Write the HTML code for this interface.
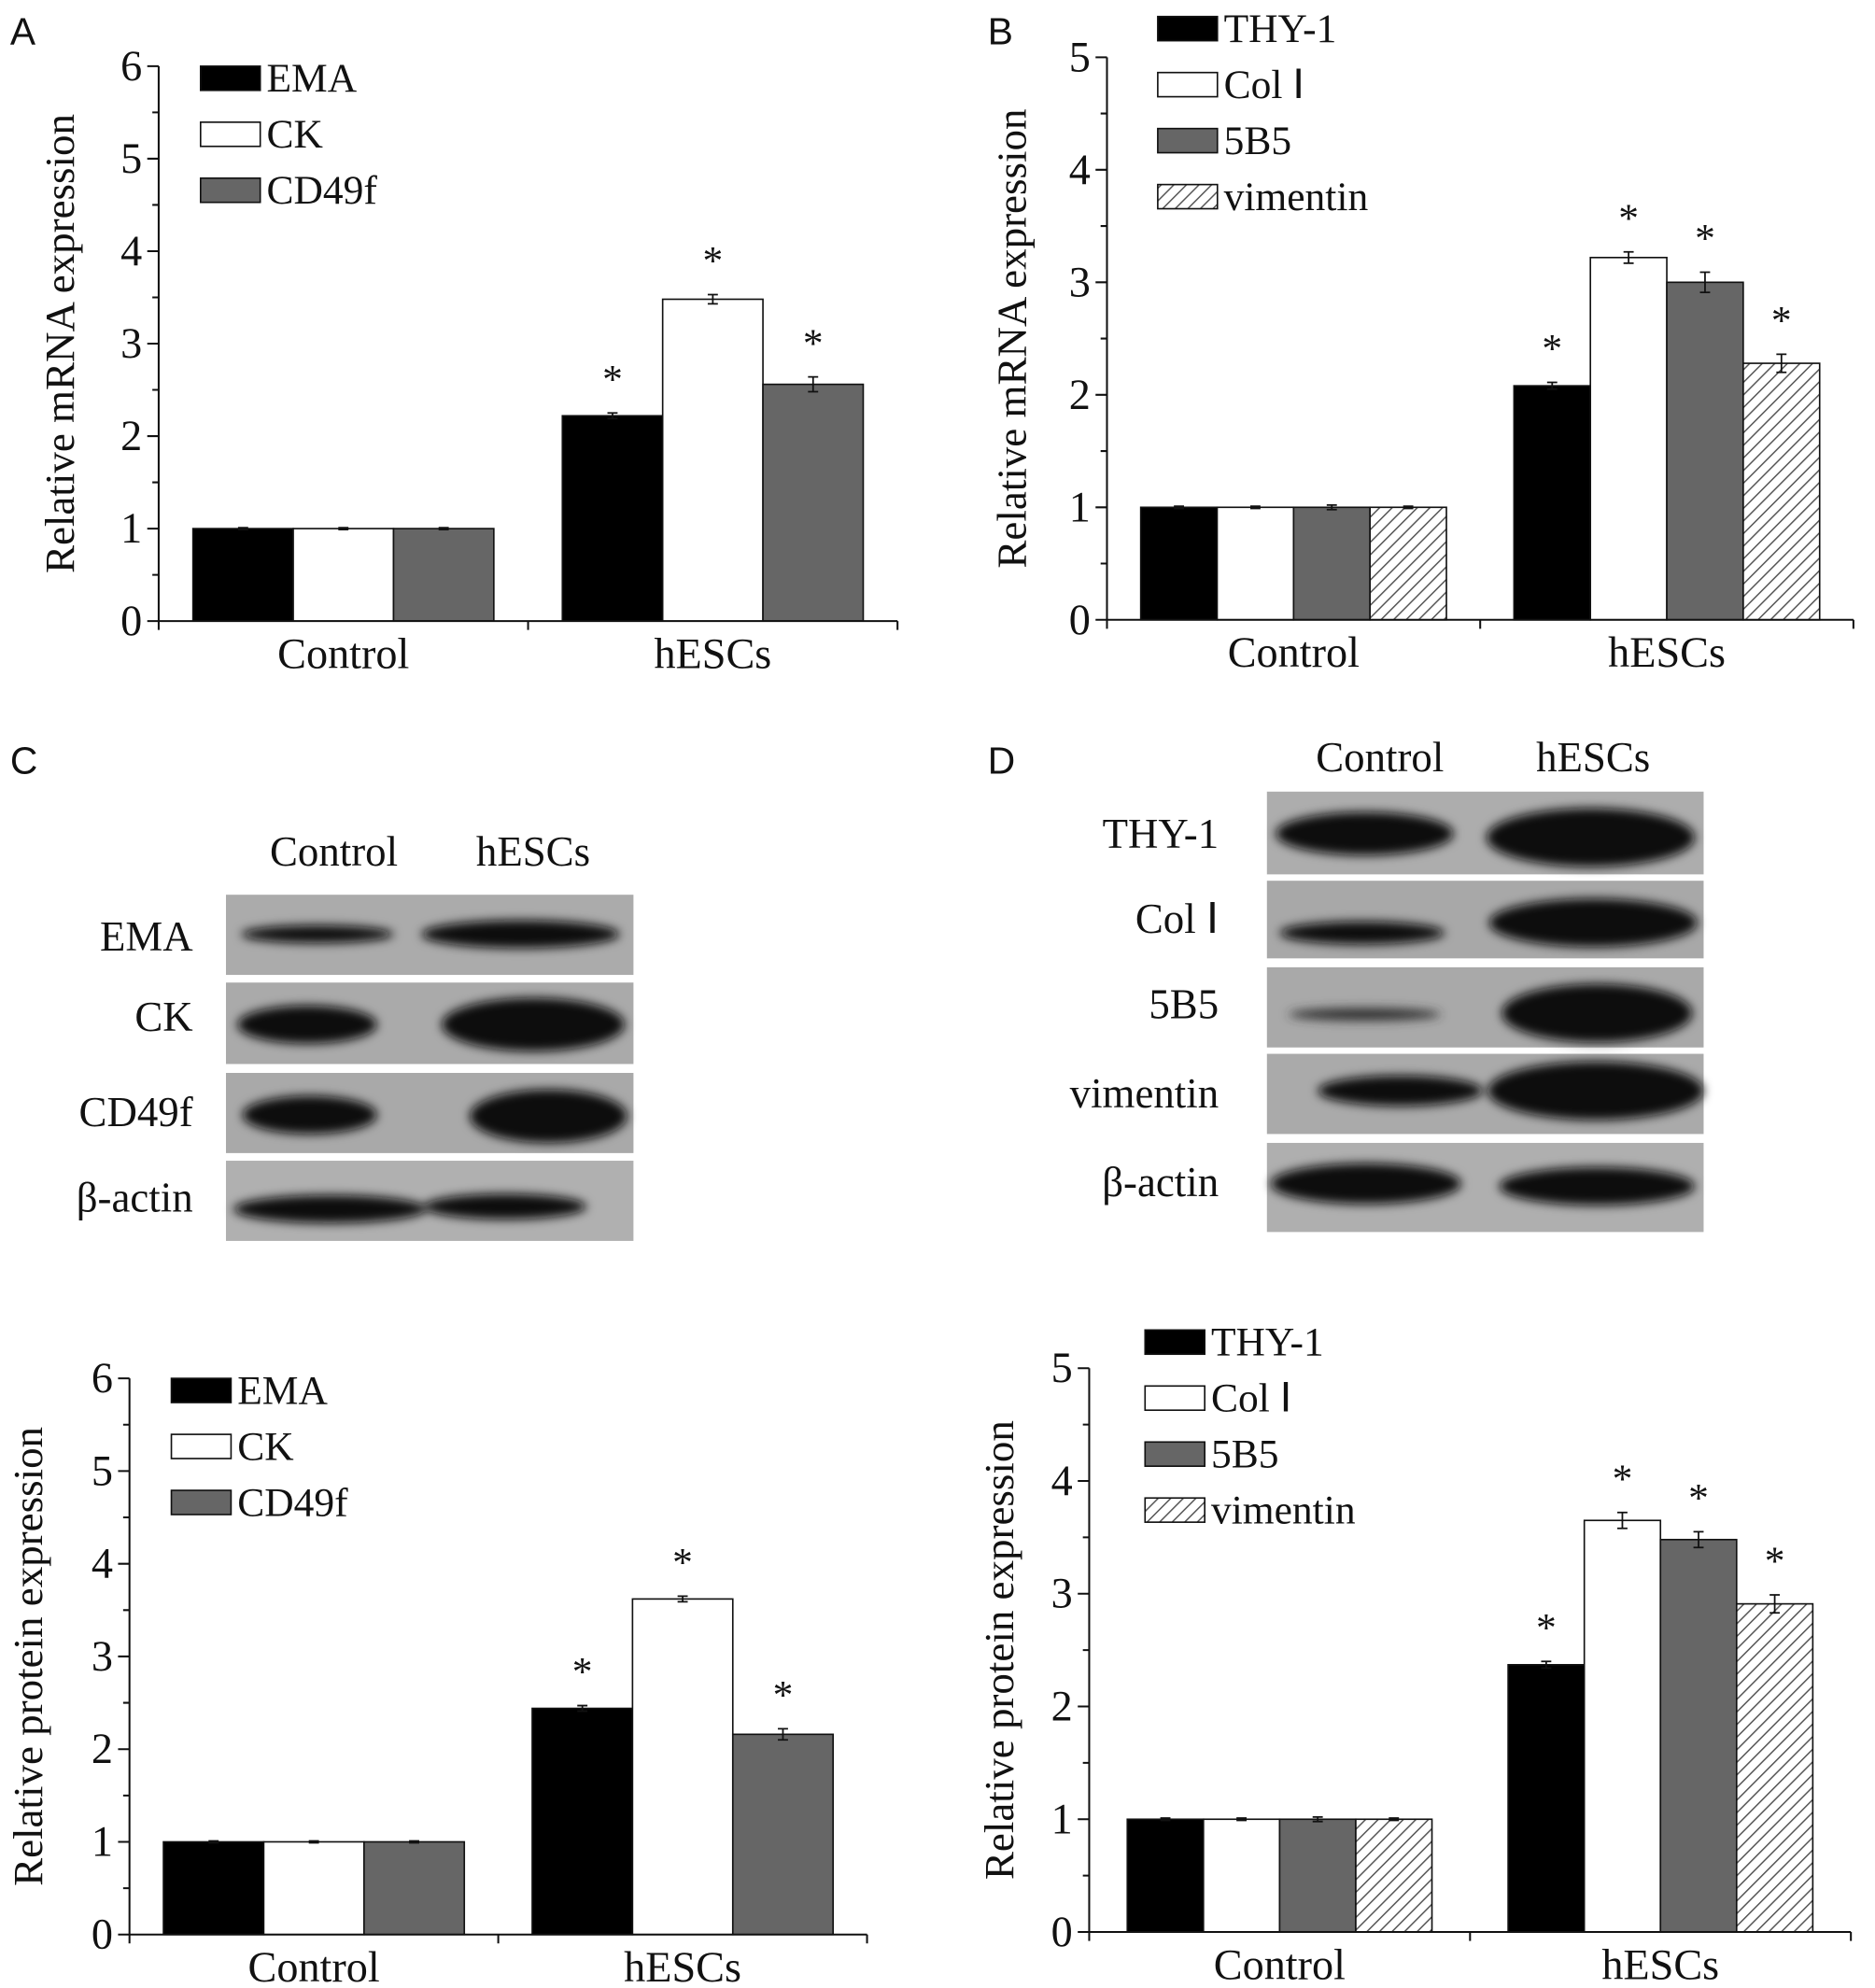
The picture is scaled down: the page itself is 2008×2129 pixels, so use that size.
<!DOCTYPE html>
<html><head><meta charset="utf-8"><style>
html,body{margin:0;padding:0;background:#fff;}
svg{display:block;}
svg text{font-family:"Liberation Serif","Times New Roman",serif;fill:#111;}
svg text.lab{font-family:"Liberation Sans",Arial,sans-serif;}
</style></head><body>
<svg id="fig" width="2008" height="2129" viewBox="0 0 1477 1562" preserveAspectRatio="none" xmlns="http://www.w3.org/2000/svg" font-family="Liberation Serif, serif">
<defs>
<pattern id="hatch" patternUnits="userSpaceOnUse" width="7" height="7" patternTransform="rotate(45)">
<rect width="7" height="7" fill="#fff"/><line x1="0" y1="0" x2="0" y2="7" stroke="#555" stroke-width="2.2"/>
</pattern>
<filter id="blur" x="-20%" y="-50%" width="140%" height="200%"><feGaussianBlur stdDeviation="4"/></filter>
</defs>
<text class="lab" x="8" y="35" font-size="30">A</text>
<text class="lab" x="778" y="35" font-size="30">B</text>
<text class="lab" x="8" y="608" font-size="30">C</text>
<text class="lab" x="778" y="608" font-size="30">D</text>

<g>
<text x="263" y="680" font-size="33" text-anchor="middle">Control</text>
<text x="420" y="680" font-size="33" text-anchor="middle">hESCs</text>
<rect x="178" y="703" width="321" height="63" fill="#ababab"/>
<rect x="178" y="772" width="321" height="64" fill="#aaaaaa"/>
<rect x="178" y="843" width="321" height="63" fill="#a9a9a9"/>
<rect x="178" y="912" width="321" height="63" fill="#b0b0b0"/>
<g filter="url(#blur)" fill="#0c0c0c">
<ellipse cx="250" cy="734" rx="60" ry="7"/><ellipse cx="410" cy="734" rx="78" ry="11"/>
<ellipse cx="242" cy="805" rx="55" ry="15"/><ellipse cx="420" cy="805" rx="72" ry="21"/>
<ellipse cx="244" cy="876" rx="53" ry="15"/><ellipse cx="432" cy="877" rx="62" ry="21"/>
<ellipse cx="260" cy="950" rx="76" ry="11"/><ellipse cx="398" cy="948" rx="64" ry="10"/>
</g>
<text x="152" y="747" font-size="33" text-anchor="end">EMA</text>
<text x="152" y="810" font-size="33" text-anchor="end">CK</text>
<text x="152" y="885" font-size="33" text-anchor="end">CD49f</text>
<text x="152" y="952" font-size="33" text-anchor="end">β-actin</text>
</g>

<g>
<text x="1087" y="606" font-size="33" text-anchor="middle">Control</text>
<text x="1255" y="606" font-size="33" text-anchor="middle">hESCs</text>
<rect x="998" y="622" width="344" height="65" fill="#adadad"/>
<rect x="998" y="692" width="344" height="61" fill="#a8a8a8"/>
<rect x="998" y="760" width="344" height="63" fill="#a9a9a9"/>
<rect x="998" y="828" width="344" height="63" fill="#aaaaaa"/>
<rect x="998" y="898" width="344" height="70" fill="#afafaf"/>
<g filter="url(#blur)" fill="#0c0c0c">
<ellipse cx="1075" cy="655" rx="70" ry="17"/><ellipse cx="1253" cy="658" rx="82" ry="23"/>
<ellipse cx="1073" cy="733" rx="65" ry="9"/><ellipse cx="1255" cy="725" rx="82" ry="19"/>
<ellipse cx="1075" cy="797" rx="60" ry="5" fill="#333"/><ellipse cx="1258" cy="796" rx="75" ry="23"/>
<ellipse cx="1103" cy="857" rx="65" ry="12"/><ellipse cx="1257" cy="857" rx="85" ry="23"/>
<ellipse cx="1076" cy="930" rx="75" ry="16"/><ellipse cx="1258" cy="932" rx="77" ry="15"/>
</g>
<text x="960" y="666" font-size="33" text-anchor="end">THY-1</text>
<text x="960" y="733" font-size="33" text-anchor="end">Col Ⅰ</text>
<text x="960" y="800" font-size="33" text-anchor="end">5B5</text>
<text x="960" y="870" font-size="33" text-anchor="end">vimentin</text>
<text x="960" y="940" font-size="33" text-anchor="end">β-actin</text>
</g>
</svg>
<script>
const groups = ["Control", "hESCs"];
const seriesA = ["EMA", "CK", "CD49f"];
const valuesA = [[1, 2.22], [1, 3.48], [1, 2.56]];
const errorsA = [[0.01, 0.03], [0.01, 0.05], [0.01, 0.08]];
const ticksA = [0, 1, 2, 3, 4, 5, 6];
const seriesB = ["THY-1", "Col Ⅰ", "5B5", "vimentin"];
const valuesB = [[1, 2.08], [1, 3.22], [1, 3.00], [1, 2.28]];
const errorsB = [[0.01, 0.03], [0.01, 0.05], [0.02, 0.09], [0.01, 0.08]];
const ticksB = [0, 1, 2, 3, 4, 5];
const valuesC = [[1, 2.44], [1, 3.62], [1, 2.16]];
const errorsC = [[0.01, 0.03], [0.01, 0.03], [0.01, 0.06]];
const valuesD = [[1, 2.37], [1, 3.65], [1, 3.48], [1, 2.91]];
const errorsD = [[0.01, 0.03], [0.01, 0.07], [0.02, 0.07], [0.01, 0.08]];

const NS = "http://www.w3.org/2000/svg";
const svg = document.getElementById("fig");
const fills = ["#000", "#fff", "#666", "url(#hatch)"];
function mk(tag, attrs, parent) {
  const e = document.createElementNS(NS, tag);
  for (const k in attrs) e.setAttribute(k, attrs[k]);
  parent.appendChild(e);
  return e;
}
function chart(id, o, series, values, errors, ticks, title) {
  const g = mk("g", {}, svg);
  
  
  const ymax = ticks[ticks.length - 1];
  const y = v => o.y0 - (o.y0 - o.yTop) * v / ymax;
  const n = series.length;
  const groupW = (o.xEnd - o.x0) / groups.length;
  const barW = o.barW;
  const x = (gi, si) => o.x0 + groupW * (gi + 0.5) - barW * n / 2 + barW * si;
  for (let si = 0; si < n; si++) {
    for (let gi = 0; gi < groups.length; gi++) {
      const v = values[si][gi];
      const r = mk("rect", {x: x(gi, si), y: y(v), width: barW, height: o.y0 - y(v), fill: fills[si], stroke: "#111", "stroke-width": 1.2}, g);
      
      
      const cx = x(gi, si) + barW / 2, e = errors[si][gi];
      const eb = mk("path", {d: `M${cx},${y(v + e)}V${y(v - e)}M${cx - 4},${y(v + e)}H${cx + 4}M${cx - 4},${y(v - e)}H${cx + 4}`, stroke: "#111", "stroke-width": 1.3, fill: "none"}, g);
      
      
      if (gi === 1) {
        const s = mk("text", {x: cx, y: y(v + e) - 16, "font-size": 32, "text-anchor": "middle"}, g);
        s.textContent = "*";
        
        
      }
    }
  }
  const ax = mk("path", {d: `M${o.x0},${o.yTop}V${o.y0}H${o.xEnd}`, stroke: "#111", "stroke-width": 1.5, fill: "none"}, g);
  
  
  let d = "";
  for (let i = 0; i < ticks.length; i++) {
    d += `M${o.x0 - 9},${y(ticks[i])}H${o.x0}`;
    if (i < ticks.length - 1) d += `M${o.x0 - 5},${y(ticks[i] + 0.5)}H${o.x0}`;
    const t = mk("text", {x: o.x0 - 13, y: y(ticks[i]) + 11, "font-size": 34, "text-anchor": "end"}, g);
    t.textContent = ticks[i];
    
    
  }
  for (let gi = 0; gi <= groups.length; gi++) d += `M${o.x0 + groupW * gi},${o.y0}V${o.y0 + 7}`;
  const tk = mk("path", {d: d, stroke: "#111", "stroke-width": 1.5}, g);
  
  
  groups.forEach((gn, gi) => {
    const t = mk("text", {x: o.x0 + groupW * (gi + 0.5), y: o.y0 + 37, "font-size": 34, "text-anchor": "middle"}, g);
    t.textContent = gn;
    
    
  });
  const yt = mk("text", {x: 0, y: 0, "font-size": 33, "text-anchor": "middle", transform: `translate(${o.titleX},${(o.y0 + o.yTop) / 2}) rotate(-90)`}, g);
  yt.textContent = title;
  
  
  series.forEach((s, si) => {
    const ly = o.legY + si * o.legStep;
    const r = mk("rect", {x: o.legX, y: ly - 9, width: 47, height: 19, fill: fills[si], stroke: "#111", "stroke-width": 1.2}, g);
    
    
    const t = mk("text", {x: o.legX + 52, y: ly + 11, "font-size": 32}, g);
    t.textContent = s;
    
    
  });
}
chart("chart-a-mrna", {x0: 125, xEnd: 707, y0: 488, yTop: 52, barW: 79, titleX: 58, legX: 158, legY: 61, legStep: 44}, seriesA, valuesA, errorsA, ticksA, "Relative mRNA expression");
chart("chart-b-mrna", {x0: 872, xEnd: 1460, y0: 487, yTop: 45, barW: 60.2, titleX: 808, legX: 912, legY: 22, legStep: 44}, seriesB, valuesB, errorsB, ticksB, "Relative mRNA expression");
chart("chart-c-protein", {x0: 102, xEnd: 683, y0: 1520, yTop: 1083, barW: 79, titleX: 33, legX: 135, legY: 1092, legStep: 44}, seriesA, valuesC, errorsC, ticksA, "Relative protein expression");
chart("chart-d-protein", {x0: 858, xEnd: 1458, y0: 1518, yTop: 1075, barW: 60, titleX: 798, legX: 902, legY: 1054, legStep: 44}, seriesB, valuesD, errorsD, ticksB, "Relative protein expression");
</script>
</body></html>
